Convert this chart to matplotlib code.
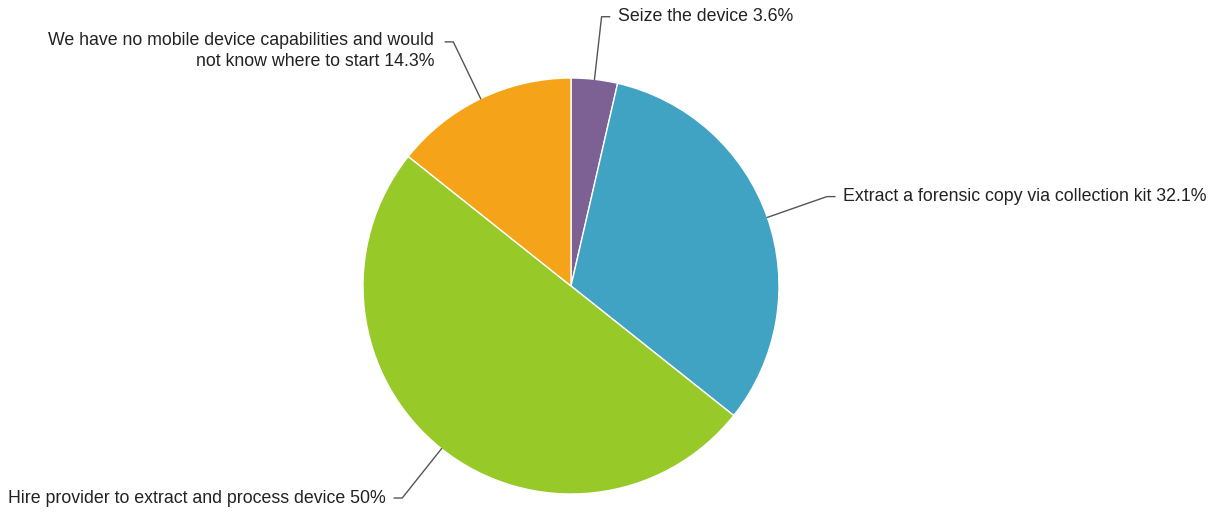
import numpy as np
import matplotlib
matplotlib.use("Agg")
import matplotlib.pyplot as plt

labels = ["Seize the device", "Extract a forensic copy via collection kit",
          "Hire provider to extract and process device",
          "We have no mobile device capabilities and would\nnot know where to start"]
values = [3.6, 32.1, 50, 14.3]
value_text = ["3.6%", "32.1%", "50%", "14.3%"]
colors = ["#7D6094", "#41A3C3", "#97C928", "#F5A41A"]

W, H = 1220, 512
fig = plt.figure(figsize=(W / 100, H / 100), dpi=100)
ax = fig.add_axes([0, 0, 1, 1])

cx, cy, r = 571, H - 286, 208
ax.pie(values, colors=colors, startangle=90, counterclock=False,
       center=(cx, cy), radius=r, frame=True,
       wedgeprops=dict(edgecolor="white", linewidth=1))
ax.set_xlim(0, W)
ax.set_ylim(0, H)
ax.set_aspect("equal")
ax.axis("off")

cum = 0
for lab, v, vt in zip(labels, values, value_text):
    mid = 90 - (cum + v / 2) * 3.6
    cum += v
    a = np.radians(mid)
    x0, y0 = cx + r * np.cos(a), cy + r * np.sin(a)
    x1, y1 = cx + (r + 63) * np.cos(a), cy + (r + 63) * np.sin(a)
    side = 1 if np.cos(a) >= 0 else -1
    x2 = x1 + side * 8
    ax.plot([x0, x1, x2], [y0, y1, y1], color="#555555", lw=1)
    ha = "left" if side > 0 else "right"
    txt = lab + " " + vt
    va = "center"
    ty = y1
    gap = 8
    if "\n" in lab:
        va = "top"
        ty = y1 + 10
        gap = 11
    ax.text(x2 + side * gap, ty, txt, ha=ha, va=va, fontsize=12.8,
            color="#222222", family=["Liberation Sans", "DejaVu Sans"],
            multialignment="right" if side < 0 else "left", linespacing=1.3)

fig.savefig("out.png", dpi=100, facecolor="white")
